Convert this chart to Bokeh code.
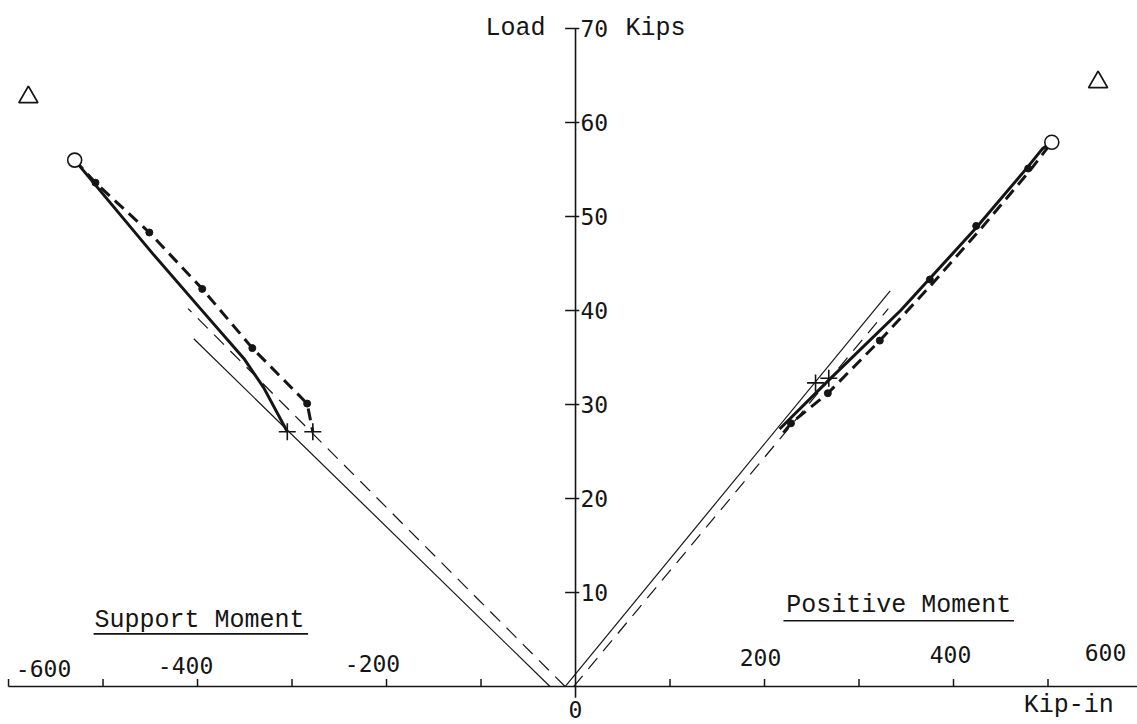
from bokeh.plotting import figure
from bokeh.models import Range1d
from bokeh.core.properties import value
from bokeh.embed import file_html
from bokeh.resources import INLINE

# ---------------- data (moment in kip-in, load in kips) ----------------
# Support moment (negative side)
sup_test_m = [-530, -447, -397, -351, -330, -305]
sup_test_load = [56.0, 46.0, 40.2, 34.9, 31.8, 27.1]
sup_calc_m = [-530, -508, -451, -395, -342, -284, -278]
sup_calc_load = [56.0, 53.6, 48.3, 42.3, 36.0, 30.1, 27.1]
sup_dots_m = [-508, -451, -395, -342, -284]
sup_dots_load = [53.6, 48.3, 42.3, 36.0, 30.1]
sup_elastic_m = [-27, -404]
sup_elastic_load = [0, 37.0]
sup_elastic2_m = [-11, -410]
sup_elastic2_load = [0, 40.2]
sup_cross_m = [-305, -278]
sup_cross_load = [27.1, 27.1]
sup_ult_m = [-530]
sup_ult_load = [56.0]

# Positive moment
pos_test_m = [216, 268, 344, 424, 478, 494, 504]
pos_test_load = [27.4, 32.6, 40.0, 48.8, 55.2, 57.2, 57.9]
pos_calc_m = [220, 228, 267, 322, 378, 429, 481, 504]
pos_calc_load = [27.0, 28.0, 31.2, 36.8, 42.9, 48.7, 54.9, 57.9]
pos_dots_m = [228, 267, 322, 375, 424, 479]
pos_dots_load = [28.0, 31.2, 36.8, 43.3, 49.0, 55.1]
pos_elastic_m = [-11, 333]
pos_elastic_load = [0, 42.1]
pos_elastic2_m = [-2, 331]
pos_elastic2_load = [0, 40.2]
pos_cross_m = [254, 268]
pos_cross_load = [32.3, 32.8]
pos_ult_m = [504]
pos_ult_load = [57.9]

# Delta markers
delta_m = [-579, 553]
delta_load = [62.7, 64.3]

# axes
x_ticks = [-600, -500, -400, -300, -200, -100, 100, 200, 300, 400, 500]
x_label_vals = [-600, -400, -200, 200, 400, 600]
x_labels = ["-600", "-400", "-200", "200", "400", "600"]
y_ticks = [10, 20, 30, 40, 50, 60, 70]
y_labels = ["10", "20", "30", "40", "50", "60", "70"]

# layout offsets of the typed tick labels (pixels)
x_label_dx = [35, -12, -14, -4, -3, -37]
x_label_dy = [-18, -21, -23, -29, -32, -34]

INK = "#151515"
NUM_FONT = value("DejaVu Sans Mono")
WORD_FONT = value("Liberation Mono")

p = figure(width=1137, height=724,
           x_range=Range1d(-608.5, 594.7), y_range=Range1d(-4.04, 72.98),
           output_backend="svg", toolbar_location=None,
           x_axis_location=None, y_axis_location=None, min_border=0)
p.grid.visible = False
p.outline_line_color = None
p.background_fill_color = "white"
p.border_fill_color = "white"

# axes drawn by hand
p.segment(x0=[-600], y0=[0], x1=[595], y1=[0], line_color=INK, line_width=1.6)
p.segment(x0=[0], y0=[-1.2], x1=[0], y1=[70], line_color=INK, line_width=1.6)
p.segment(x0=x_ticks, y0=[0] * len(x_ticks), x1=x_ticks, y1=[0.8] * len(x_ticks),
          line_color=INK, line_width=1.5)
p.segment(x0=[-11] * len(y_ticks), y0=y_ticks, x1=[4] * len(y_ticks), y1=y_ticks,
          line_color=INK, line_width=1.5)

p.text(x=x_label_vals, y=[0] * len(x_labels), text=x_labels,
       x_offset=x_label_dx, y_offset=x_label_dy,
       text_align="center", text_baseline="middle",
       text_font=NUM_FONT, text_font_size="23px", text_color=INK)
p.text(x=[0], y=[0], text=["0"], y_offset=23, text_align="center",
       text_baseline="middle", text_font=NUM_FONT, text_font_size="23px", text_color=INK)
p.text(x=[0] * len(y_ticks), y=y_ticks, text=y_labels, x_offset=5,
       text_align="left", text_baseline="middle",
       text_font=NUM_FONT, text_font_size="23px", text_color=INK)

# axis titles
p.text(x=[0], y=[70], text=["Load"], x_offset=-60, text_align="center",
       text_baseline="middle", text_font=WORD_FONT, text_font_size="25px", text_color=INK)
p.text(x=[0], y=[70], text=["Kips"], x_offset=80, text_align="center",
       text_baseline="middle", text_font=WORD_FONT, text_font_size="25px", text_color=INK)
p.text(x=[595], y=[0], text=["Kip-in"], x_offset=-69, y_offset=19, text_align="center",
       text_baseline="middle", text_font=WORD_FONT, text_font_size="25px", text_color=INK)

# region titles with underline
p.text(x=[-398], y=[7.0], text=["Support Moment"], text_align="center",
       text_baseline="middle", text_font=WORD_FONT, text_font_size="25px", text_color=INK)
p.segment(x0=[-510], y0=[5.6], x1=[-283], y1=[5.6], line_color=INK, line_width=1.6)
p.text(x=[342], y=[8.6], text=["Positive Moment"], text_align="center",
       text_baseline="middle", text_font=WORD_FONT, text_font_size="25px", text_color=INK)
p.segment(x0=[220], y0=[7.0], x1=[464], y1=[7.0], line_color=INK, line_width=1.6)

# elastic (thin) lines
p.line(sup_elastic_m, sup_elastic_load, line_color=INK, line_width=1.2)
p.line(sup_elastic2_m, sup_elastic2_load, line_color=INK, line_width=1.2, line_dash="14 9")
p.line(pos_elastic_m, pos_elastic_load, line_color=INK, line_width=1.2)
p.line(pos_elastic2_m, pos_elastic2_load, line_color=INK, line_width=1.2, line_dash="14 9")

# test (thick solid) and calculated (thick dashed)
p.line(sup_test_m, sup_test_load, line_color=INK, line_width=3)
p.line(sup_calc_m, sup_calc_load, line_color=INK, line_width=3, line_dash="12 7")
p.line(pos_test_m, pos_test_load, line_color=INK, line_width=3)
p.line(pos_calc_m, pos_calc_load, line_color=INK, line_width=3, line_dash="12 7")

# markers
p.scatter(sup_dots_m, sup_dots_load, size=7, color=INK)
p.scatter(pos_dots_m, pos_dots_load, size=7, color=INK)
p.scatter(sup_cross_m, sup_cross_load, marker="cross", size=17, line_color=INK, line_width=1.6)
p.scatter(pos_cross_m, pos_cross_load, marker="cross", size=17, line_color=INK, line_width=1.6)
p.scatter(sup_ult_m, sup_ult_load, size=14, fill_color="white", line_color=INK, line_width=1.6)
p.scatter(pos_ult_m, pos_ult_load, size=14, fill_color="white", line_color=INK, line_width=1.6)
p.scatter(delta_m, delta_load, marker="triangle", size=19, fill_color=None,
          line_color=INK, line_width=1.8)

open("out.html", "w").write(file_html(p, INLINE))
